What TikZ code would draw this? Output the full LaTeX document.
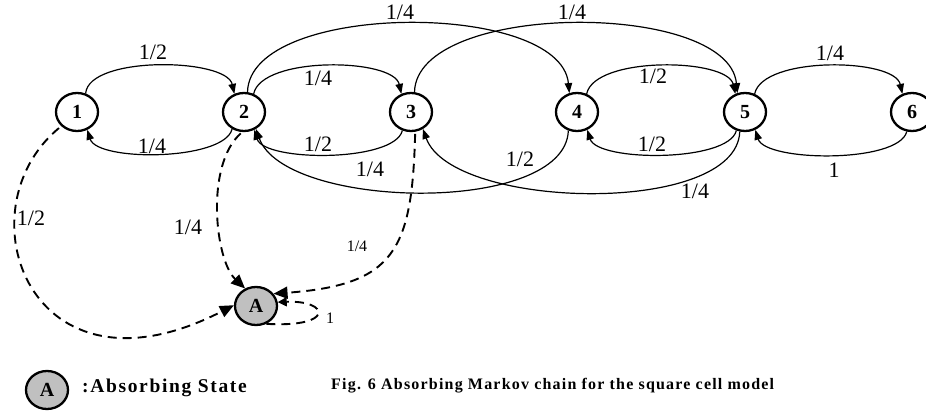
\documentclass[tikz,border=0pt]{standalone}
\usepackage{fontspec}
\setmainfont{Liberation Serif}
\newfontfamily\legendfont[LetterSpace=8.5]{Liberation Serif}
\newfontfamily\capfont[LetterSpace=7.5]{Liberation Serif}
\usetikzlibrary{arrows.meta,shapes.geometric}
\definecolor{absgray}{RGB}{192,192,192}
\begin{document}
\begin{tikzpicture}[x=1pt,y=-1pt,
  st/.style={ellipse,draw,line width=2.3pt,minimum width=42pt,minimum height=38pt,inner sep=0pt,font=\fontsize{20}{20}\selectfont\bfseries},
  ab/.style={st,fill=absgray},
  arr/.style={line width=1.2pt,-{Triangle[length=10pt,width=7.5pt]}},
  darr/.style={line width=1.9pt,dash pattern=on 9pt off 6pt,-{Triangle[length=14pt,width=12pt]}},
  sarr/.style={line width=1.9pt,dash pattern=on 9pt off 6pt,-{Triangle[length=9pt,width=9pt]}},
  lab/.style={font=\fontsize{22}{22}\selectfont,inner sep=0pt},
  slab/.style={font=\fontsize{16}{16}\selectfont,inner sep=0pt}]
\useasboundingbox (0,0) rectangle (926,411);

\node[st] (n1) at (77,112) {1};
\node[st] (n2) at (244,112) {2};
\node[st] (n3) at (411,112) {3};
\node[st] (n4) at (577,112) {4};
\node[st] (n5) at (745,112) {5};
\node[st] (n6) at (912,112) {6};
\node[ab] (A) at (256,306) {A};

% neighbour arcs
\draw[arr] (n1.65) .. controls +(3,-38) and +(-8,-36) .. (n2.118);
\draw[arr] (n2.235) .. controls +(-8,32) and +(10,32) .. (n1.300);
\draw[arr] (n2.62) .. controls +(8,-38) and +(-8,-36) .. (n3.118);
\draw[arr] (n3.245) .. controls +(-8,32) and +(10,32) .. (n2.300);
\draw[arr] (n4.62) .. controls +(8,-38) and +(-8,-36) .. (n5.118);
\draw[arr] (n5.245) .. controls +(-8,32) and +(10,32) .. (n4.300);
\draw[arr] (n5.62) .. controls +(8,-38) and +(-8,-36) .. (n6.118);
\draw[arr] (n6.255) .. controls +(-8,32) and +(10,32) .. (n5.300);

% long arcs
\draw[arr] (n2.80) .. controls +(2,-91) and +(-9,-93) .. (n4.112);
\draw[arr] (n3.80) .. controls +(2,-91) and +(-9,-93) .. (n5.112);
\draw[arr] (n4.245) .. controls +(-3,85) and +(29,81) .. (n2.305);
\draw[arr] (n5.255) .. controls +(-3,85) and +(29,81) .. (n3.305);

% absorbing transitions
\draw[darr,shorten <=3pt] (n1.222) .. controls (-40,210) and (30,410) .. (A.178);
\draw[darr,shorten <=2pt] (n2.265) .. controls (205,165) and (215,260) .. (A.122);
\draw[darr,shorten <=2pt] (n3.282) .. controls (412,250) and (395,285) .. (A.35);
\draw[sarr] (A.300) .. controls (335,328) and (330,300) .. (A.10);

% labels
\node[lab] (l12) at (153,52) {1/2};
\node[lab] (l21) at (152,146) {1/4};
\node[lab] (l23) at (318,78) {1/4};
\node[lab] (l32) at (318,144) {1/2};
\node[lab] (l24) at (400,12) {1/4};
\node[lab] (l35) at (572,12) {1/4};
\node[lab] (l42) at (370,169) {1/4};
\node[lab] (l42b) at (520,159) {1/2};
\node[lab] (l45) at (653,76) {1/2};
\node[lab] (l54) at (652,144) {1/2};
\node[lab] (l56) at (830,53) {1/4};
\node[lab] (l65) at (834,170) {1};
\node[lab] (l53) at (695,191) {1/4};
\node[lab] (l1A) at (31,218) {1/2};
\node[lab] (l2A) at (188,227) {1/4};
\node[slab] (l3A) at (357,246) {1/4};
\node[slab] (lAA) at (330,318) {1};

% legend and caption
\node[ab] (leg) at (47,390) {A};
\node[anchor=west,inner sep=0pt,font=\legendfont\fontsize{19.5}{20}\selectfont\bfseries] (legtext) at (82,388) {:Absorbing State};
\node[anchor=west,inner sep=0pt,font=\capfont\fontsize{16}{16}\selectfont\bfseries] (cap) at (331,386) {Fig. 6 Absorbing Markov chain for the square cell model};
\end{tikzpicture}
\end{document}
